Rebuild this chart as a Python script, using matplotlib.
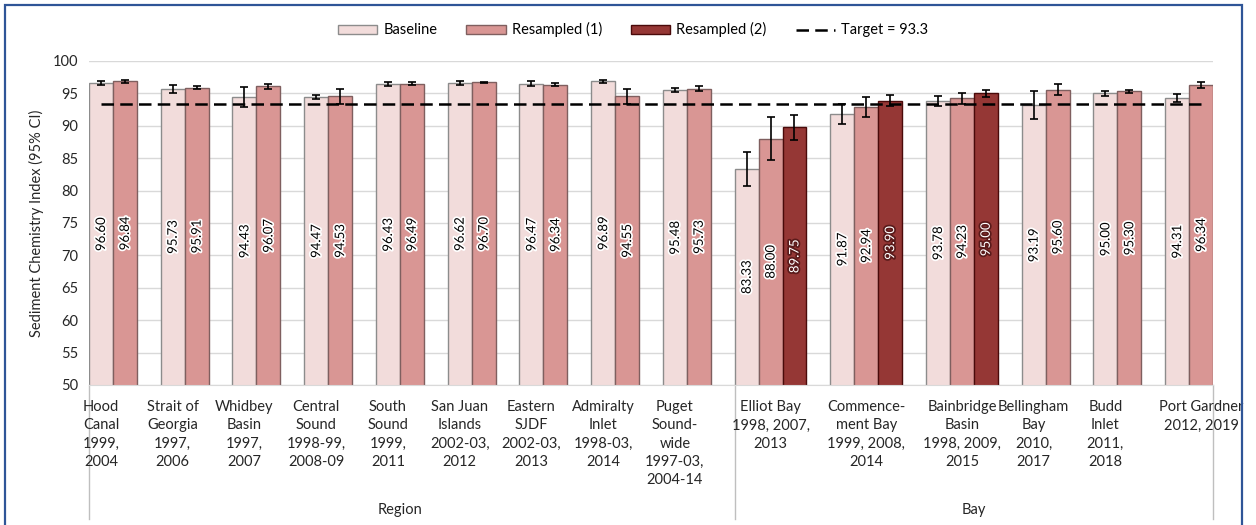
import numpy as np
from matplotlib import pyplot as plt
from matplotlib import patheffects as pe
from matplotlib.patches import Patch, Rectangle
from matplotlib.lines import Line2D

# ---- data ----
categories = ['Hood\nCanal\n1999,\n2004',
              'Strait of\nGeorgia\n1997,\n2006',
              'Whidbey\nBasin\n1997,\n2007',
              'Central\nSound\n1998-99,\n2008-09',
              'South\nSound\n1999,\n2011',
              'San Juan\nIslands\n2002-03,\n2012',
              'Eastern\nSJDF\n2002-03,\n2013',
              'Admiralty\nInlet\n1998-03,\n2014',
              'Puget\nSound-\nwide\n1997-03,\n2004-14',
              'Elliot Bay\n1998, 2007,\n2013',
              'Commence-\nment Bay\n1999, 2008,\n2014',
              'Bainbridge\nBasin\n1998, 2009,\n2015',
              'Bellingham\nBay\n2010,\n2017',
              'Budd\nInlet\n2011,\n2018',
              'Port Gardner\n2012, 2019']
groups = ['Region'] * 9 + ['Bay'] * 6
nan = np.nan
baseline = [96.60, 95.73, 94.43, 94.47, 96.43, 96.62, 96.47, 96.89, 95.48,
            83.33, 91.87, 93.78, 93.19, 95.00, 94.31]
baseline_err = [0.30, 0.60, 1.50, 0.30, 0.36, 0.30, 0.40, 0.25, 0.30,
                2.65, 1.55, 0.75, 2.20, 0.35, 0.65]
resampled1 = [96.84, 95.91, 96.07, 94.53, 96.49, 96.70, 96.34, 94.55, 95.73,
              88.00, 92.94, 94.23, 95.60, 95.30, 96.34]
resampled1_err = [0.25, 0.23, 0.33, 1.20, 0.25, 0.12, 0.20, 1.20, 0.35,
                  3.30, 1.55, 0.90, 0.85, 0.25, 0.45]
resampled2 = [nan] * 9 + [89.75, 93.90, 95.00] + [nan] * 3
resampled2_err = [nan] * 9 + [1.90, 0.80, 0.50] + [nan] * 3
series_names = ['Baseline', 'Resampled (1)', 'Resampled (2)']
target = 93.3
y_ticks = list(range(50, 101, 5))

# ---- styling / layout ----
face = ['#F2DCDB', '#D99694', '#953735']
edge = ['#8C8C8C', '#7F5F5F', '#4A0A0A']
text_col = ['black', 'black', 'white']
label_bar = [0] * 9 + [1, 1, 1, 0, 0, 1]   # bar under which each category label sits
plt.rcParams['font.family'] = ['Lato', 'DejaVu Sans']

series = [(baseline, baseline_err), (resampled1, resampled1_err),
          (resampled2, resampled2_err)]
n_bars = [sum(1 for vals, _ in series if not np.isnan(vals[i]))
          for i in range(len(categories))]
starts = np.concatenate([[0], np.cumsum([n + 1 for n in n_bars])[:-1]])
x_max = starts[-1] + n_bars[-1]

fig = plt.figure(figsize=(12.56, 5.25), dpi=100)
ax = fig.add_axes([89 / 1256, 1 - 385 / 525, 1124 / 1256, 324 / 525])

for s, (vals, errs) in enumerate(series):
    vals = np.array(vals, dtype=float)
    errs = np.array(errs, dtype=float)
    ok = ~np.isnan(vals)
    xs = starts[ok] + s + 0.5
    ax.bar(xs, vals[ok], width=1.0, color=face[s], edgecolor=edge[s],
           linewidth=1.0, zorder=2)
    ax.errorbar(xs, vals[ok], yerr=errs[ok], fmt='none', ecolor='black',
                elinewidth=1.2, capsize=3, capthick=1.2, zorder=4)
    for x, v in zip(xs, vals[ok]):
        glow = 'white' if s < 2 else '#5a1a1a'
        ax.text(x, (50 + v) / 2, f'{v:.2f}', rotation=90, ha='center',
                va='center', fontsize=9.5, color=text_col[s], zorder=5,
                path_effects=[pe.withStroke(linewidth=2.5, foreground=glow)])

ax.hlines(target, 0.5, x_max - 0.5, colors='black', linewidth=1.8,
          linestyles=(0, (5, 2.5)), zorder=6)

ax.set_xlim(0, x_max)
ax.set_ylim(50, 100)
ax.set_yticks(y_ticks)
ax.set_xticks([])
ax.tick_params(axis='y', length=0, labelsize=10.5, labelcolor='#262626', pad=8)
ax.yaxis.grid(True, color='#D9D9D9', linewidth=1.0)
ax.set_axisbelow(True)
for side in ['left', 'right', 'top']:
    ax.spines[side].set_visible(False)
ax.spines['bottom'].set_color('#D9D9D9')
ax.set_ylabel('Sediment Chemistry Index (95% CI)', fontsize=10.5,
              color='#262626', labelpad=6)

# category labels
for i, lab in enumerate(categories):
    x = starts[i] + label_bar[i] + 0.5
    ax.annotate(lab, xy=(x, 0), xycoords=('data', 'axes fraction'),
                xytext=(0, -11), textcoords='offset points', ha='center',
                va='top', fontsize=10.5, color='#262626', linespacing=1.38)

# group labels and separators
for name in ['Region', 'Bay']:
    idx = [i for i, g in enumerate(groups) if g == name]
    lo = starts[idx[0]]
    hi = starts[idx[-1]] + n_bars[idx[-1]]
    ax.annotate(name, xy=((lo + hi) / 2, 0), xycoords=('data', 'axes fraction'),
                xytext=(0, -90), textcoords='offset points', ha='center',
                va='center', fontsize=10.5, color='#262626')
tr = ax.get_xaxis_transform()
for b in [0, starts[9], x_max]:
    ax.plot([b, b], [0, -0.415], color='#BFBFBF', lw=1.0, transform=tr,
            clip_on=False)

handles = [Patch(facecolor=face[s], edgecolor=edge[s], label=series_names[s])
           for s in range(3)]
handles.append(Line2D([], [], color='black', lw=1.8, linestyle=(0, (5, 2.5)),
                      label=f'Target = {target}'))
fig.legend(handles=handles, loc='center', bbox_to_anchor=(0.504, 0.943),
           ncol=4, frameon=False, fontsize=10.5, handlelength=2.7,
           handleheight=0.6, handletextpad=0.4, columnspacing=2.0)

fig.add_artist(Rectangle((5 / 1256, -0.05), 1237 / 1256, 1.05 - 5 / 525,
                         transform=fig.transFigure, fill=False,
                         edgecolor='#2F5597', linewidth=1.6))

fig.savefig('out.png', dpi=100)
